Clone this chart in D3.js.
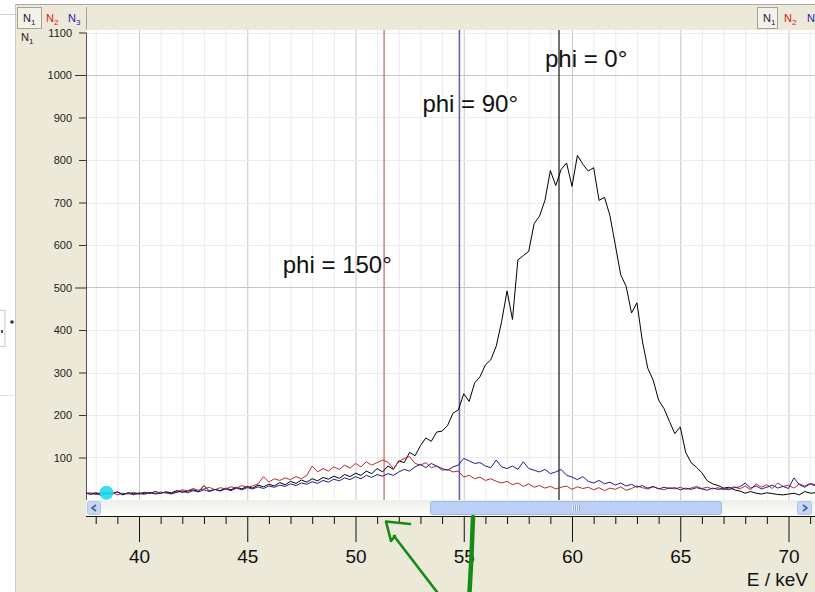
<!DOCTYPE html>
<html>
<head>
<meta charset="utf-8">
<script src="https://cdn.jsdelivr.net/npm/d3@7"></script>
<style>
  html, body { margin: 0; padding: 0; background: #fff; }
  svg { display: block; font-family: "Liberation Sans", Arial, sans-serif; }
</style>
</head>
<body>
<svg id="chart" width="815" height="592"></svg>
<script>
// channel calibration: first channel energy and width (keV)
const E0 = 37.5, dE = 0.25;

// counts per channel
const n1 = [18, 13,
  16, 11, 17, 14,  19, 12, 17, 15,  14, 18, 15, 20,  16, 19, 17, 22,  18, 21, 24, 20,
  34, 21, 25, 22,  28, 24, 30, 26,  32, 28, 35, 31,  37, 33, 41, 36,  44, 39, 47, 42,
  50, 45, 53, 49,  56, 51, 60, 55,  63, 58, 68, 62,  74, 66, 80, 72,  92, 88, 112, 104,
  128, 146, 138, 160,  162, 175, 204, 212,  250, 232, 275, 290,  318, 330, 362, 420,
  492, 425, 565, 575,  585, 650, 668, 705,  775, 740, 778, 793,  738, 811, 790, 774,
  782, 705, 712, 670,  600, 530, 503, 440,  464, 374, 310, 282,  235, 215, 185, 156,
  172, 112, 88, 77,  64, 45, 38, 34,  28, 30, 24, 21,  16, 20, 16, 14,  17, 15, 13, 12,
  14, 16, 12, 20,  16, 17];

const n2 = [16, 14,
  18, 13, 15, 17,  12, 16, 14, 18,  15, 13, 17, 15,  19, 16, 14, 20,  24, 22, 27, 23,
  26, 30, 24, 29,  26, 31, 28, 34,  30, 33, 38, 55,  42, 50, 46, 52,  48, 55, 50, 58,
  80, 66, 74, 68,  78, 72, 82, 75,  86, 78, 90, 82,  88, 94, 89, 74,  90, 98, 102, 86,
  82, 88, 76, 80,  70, 72, 66, 68,  54, 58, 50, 54,  46, 50, 44, 40,  44, 36, 40, 32,
  38, 30, 34, 28,  32, 26, 30, 33,  25, 31, 27, 30,  24, 29, 22, 28,  25, 31, 23, 27,
  33, 29, 26, 31,  27, 24, 29, 26,  30, 25, 28, 32,  27, 30, 26, 29,  24, 28, 31, 26,
  33, 24, 38, 30,  36, 27, 40, 32,  35, 28, 38, 33,  39, 36];

const n3 = [15, 17,
  13, 18, 14, 16,  19, 14, 16, 12,  17, 15, 18, 14,  16, 19, 15, 18,  21, 17, 22, 19,
  24, 20, 25, 21,  26, 22, 28, 24,  29, 26, 31, 27,  33, 30, 35, 32,  38, 34, 40, 37,
  43, 39, 46, 42,  49, 45, 52, 48,  55, 50, 58, 53,  60, 56, 62, 58,  66, 72, 68, 78,
  84, 76, 86, 80,  74, 70, 78, 82,  98, 92, 86, 88,  80, 76, 94, 78,  74, 80, 72, 90,
  74, 70, 66, 72,  62, 66, 72, 58,  54, 48, 55, 44,  40, 46, 38, 42,  35, 40, 33, 37,
  30, 34, 28, 32,  26, 30, 27, 29,  24, 28, 25, 29,  26, 23, 28, 25,  27, 24, 29, 31,
  40, 28, 33, 26,  30, 35, 28, 32,  27, 52, 36, 30,  38, 33];

const seriesNames = ["N1", "N2", "N3"];
const seriesData = [n1, n2, n3];
// marker energy (keV) and annotation for each series
const markerE = [59.4, 51.32, 54.8];
const markerText = ["phi = 0\u00B0", "phi = 150\u00B0", "phi = 90\u00B0"];
const markerTextAt = [[58.75, 1018], [46.64, 535], [53.09, 912]];

const xMajor = [40, 45, 50, 55, 60, 65, 70];
const xMinor = d3.range(38, 72);
const yTicks = [100, 200, 300, 400, 500, 600, 700, 800, 900, 1000, 1100];
const cursorChannel = 4;

const colors = ["#000000", "#b32c2c", "#1e1e8a"];
const markerColors = ["#000000", "#c85050", "#6464aa"];
const tabColors = ["#222222", "#d42020", "#2323b0"];

const W = 815, H = 592;
const plot = { left: 86, right: 815, top: 30, bottom: 500 };
const beige = "#ECE9D8";

const x = d3.scaleLinear().domain([40, 70]).range([139, 788.5]);
const y = d3.scaleLinear().domain([0, 1100]).range([500, 32.5]);

const svg = d3.select("#chart");

// window chrome
svg.append("rect").attr("width", W).attr("height", H).attr("fill", "#fff");
svg.append("rect").attr("x", 15).attr("y", 5).attr("width", W - 15).attr("height", H - 5).attr("fill", beige);
svg.append("line").attr("x1", 15).attr("x2", W).attr("y1", 4.5).attr("y2", 4.5).attr("stroke", "#a8a8a8");
svg.append("line").attr("x1", 15.5).attr("x2", 15.5).attr("y1", 5).attr("y2", H).attr("stroke", "#cfcbbb");
svg.append("line").attr("x1", 0).attr("x2", 15).attr("y1", 14.5).attr("y2", 14.5).attr("stroke", "#cfcfcf");
svg.append("line").attr("x1", 0).attr("x2", 14).attr("y1", 395.5).attr("y2", 395.5).attr("stroke", "#e2e2e2");
svg.append("rect").attr("x", -2).attr("y", 310.5).attr("width", 7).attr("height", 36).attr("fill", "none").attr("stroke", "#c9c9c9");
svg.append("circle").attr("cx", 12).attr("cy", 322).attr("r", 1.8).attr("fill", "#333");
svg.append("rect").attr("x", 1).attr("y", 330).attr("width", 2).attr("height", 3).attr("fill", "#555");

// tab buttons
function tab(g, x0, name, color, boxed, w) {
  if (boxed) {
    g.append("rect").attr("x", x0 - 5.5).attr("y", 7.5).attr("width", w).attr("height", 21)
      .attr("fill", "#f2f1ea").attr("stroke", "#a4a294");
  }
  const t = g.append("text").attr("x", x0).attr("y", 22).attr("font-size", 11).attr("fill", color);
  t.append("tspan").text(name[0]);
  t.append("tspan").attr("font-size", 8).attr("dy", 3).text(name[1]);
}
const tabs = svg.append("g");
seriesNames.forEach((n, i) => tab(tabs, [23, 46, 68][i], n, tabColors[i], i === 0, 24));
tabs.append("line").attr("x1", 86.5).attr("x2", 86.5).attr("y1", 7).attr("y2", 30).attr("stroke", "#a4a294");
// right-hand tab group runs off the window edge, as in the original screenshot
seriesNames.forEach((n, i) => tab(tabs, [763, 784, 807][i], n, tabColors[i], i === 0, 20));

// plot area + grid
svg.append("rect").attr("x", plot.left).attr("y", plot.top)
  .attr("width", plot.right - plot.left).attr("height", plot.bottom - plot.top).attr("fill", "#fff");

svg.append("clipPath").attr("id", "clip").append("rect")
  .attr("x", plot.left).attr("y", plot.top).attr("width", plot.right - plot.left).attr("height", plot.bottom - plot.top);

const grid = svg.append("g").attr("clip-path", "url(#clip)");
grid.selectAll(".vminor").data(xMinor).join("line")
  .attr("x1", d => x(d) + 0.5).attr("x2", d => x(d) + 0.5)
  .attr("y1", plot.top).attr("y2", plot.bottom)
  .attr("stroke", d => d % 5 === 0 ? "#c6c6c6" : "#ececec");
grid.selectAll(".hgrid").data(yTicks).join("line")
  .attr("x1", plot.left).attr("x2", plot.right)
  .attr("y1", d => Math.round(y(d)) + 0.5).attr("y2", d => Math.round(y(d)) + 0.5)
  .attr("stroke", d => d % 500 === 0 ? "#c6c6c6" : "#ececec");

// y axis
const yAxis = svg.append("g").attr("transform", `translate(${plot.left},0)`)
  .call(d3.axisLeft(y).tickValues(yTicks).tickFormat(d3.format("d")).tickSize(7).tickPadding(7).tickSizeOuter(0));
yAxis.select(".domain").remove();
yAxis.selectAll(".tick line").attr("stroke", "#333")
  .filter(d => d % 500 === 0).attr("x2", -11);
yAxis.selectAll(".tick text").attr("font-size", 11).attr("fill", "#222")
  .attr("font-family", "'Liberation Sans', Arial, sans-serif");
svg.append("line").attr("x1", plot.left + 0.5).attr("x2", plot.left + 0.5)
  .attr("y1", y(1100)).attr("y2", plot.bottom).attr("stroke", "#555");
const yl = svg.append("text").attr("x", 21).attr("y", 41).attr("font-size", 11).attr("fill", "#222");
yl.append("tspan").text("N");
yl.append("tspan").attr("font-size", 8).attr("dy", 3).text("1");

// marker lines
const marks = svg.append("g").attr("clip-path", "url(#clip)");
markerE.forEach((e, i) => {
  marks.append("line").attr("x1", x(e)).attr("x2", x(e))
    .attr("y1", plot.top).attr("y2", plot.bottom)
    .attr("stroke", markerColors[i]).attr("stroke-width", i === 2 ? 1.6 : 1.1);
});

// spectra
const line = d3.line().x((d, i) => x(E0 + i * dE)).y(d => y(d));
const curves = svg.append("g").attr("clip-path", "url(#clip)");
seriesData.forEach((s, i) => {
  curves.append("path").datum(s).attr("d", line)
    .attr("fill", "none").attr("stroke", colors[i]).attr("stroke-width", 1)
    .attr("stroke-linejoin", "round");
});

// cursor dot
curves.append("circle").attr("cx", x(E0 + cursorChannel * dE)).attr("cy", y(n1[cursorChannel]))
  .attr("r", 7).attr("fill", "#1fdcea").attr("opacity", 0.9);

// annotations
markerText.forEach((t, i) => {
  svg.append("text").attr("x", x(markerTextAt[i][0])).attr("y", y(markerTextAt[i][1]))
    .attr("font-size", 24).attr("fill", "#111").text(t);
});

// scrollbar
const sb = svg.append("g");
const grad = svg.append("defs").append("linearGradient").attr("id", "track")
  .attr("x1", 0).attr("x2", 0).attr("y1", 0).attr("y2", 1);
grad.append("stop").attr("offset", 0).attr("stop-color", "#efefe9");
grad.append("stop").attr("offset", 1).attr("stop-color", "#fdfdfc");
sb.append("rect").attr("x", plot.left).attr("y", 500).attr("width", plot.right - plot.left).attr("height", 16).attr("fill", "url(#track)");
sb.append("rect").attr("x", 87.5).attr("y", 501.5).attr("width", 13).attr("height", 13).attr("rx", 2)
  .attr("fill", "#c6d6f6").attr("stroke", "#b0c4ec");
sb.append("path").attr("d", "M96,505 L92,508 L96,511").attr("fill", "none").attr("stroke", "#4d6185").attr("stroke-width", 1.6);
sb.append("rect").attr("x", 797.5).attr("y", 501.5).attr("width", 14).attr("height", 13).attr("rx", 2)
  .attr("fill", "#c6d6f6").attr("stroke", "#b0c4ec");
sb.append("path").attr("d", "M803,505 L807,508 L803,511").attr("fill", "none").attr("stroke", "#4d6185").attr("stroke-width", 1.6);
sb.append("rect").attr("x", 430.5).attr("y", 501.5).attr("width", 291).attr("height", 13).attr("rx", 2)
  .attr("fill", "#bcd0f5").attr("stroke", "#a3b9e6");
[572, 574, 576, 578].forEach(gx => {
  sb.append("line").attr("x1", gx + 0.5).attr("x2", gx + 0.5).attr("y1", 505).attr("y2", 511).attr("stroke", "#eef3fd");
  sb.append("line").attr("x1", gx + 1.5).attr("x2", gx + 1.5).attr("y1", 505).attr("y2", 511).attr("stroke", "#8fa7d6");
});

// x axis
const xAxisMinor = svg.append("g").attr("transform", "translate(0,516)")
  .call(d3.axisBottom(x).tickValues(xMinor.filter(d => d % 5 !== 0)).tickSize(8).tickFormat("").tickSizeOuter(0));
xAxisMinor.select(".domain").remove();
xAxisMinor.selectAll(".tick line").attr("stroke", "#111");
const xAxis = svg.append("g").attr("transform", "translate(0,516)")
  .call(d3.axisBottom(x).tickValues(xMajor).tickSize(26).tickPadding(8).tickSizeOuter(0));
xAxis.select(".domain").remove();
xAxis.selectAll(".tick line").attr("stroke", "#111");
xAxis.selectAll(".tick text").attr("font-size", 19).attr("fill", "#111")
  .attr("font-family", "'Liberation Sans', Arial, sans-serif");
svg.append("line").attr("x1", plot.left).attr("x2", plot.right).attr("y1", 516.5).attr("y2", 516.5).attr("stroke", "#111");
svg.append("text").attr("x", 808).attr("y", 586).attr("text-anchor", "end")
  .attr("font-size", 19).attr("fill", "#111").text("E / keV");

// hand-drawn green arrows
const green = "#168a16";
svg.append("path").attr("d", "M410,524 L386,521.5 L391,541 L395,536 M394,536 L437,592")
  .attr("fill", "none").attr("stroke", green).attr("stroke-width", 2.6)
  .attr("stroke-linejoin", "round").attr("stroke-linecap", "round");
svg.append("path").attr("d", "M473,517 L471.5,556 L469.5,592")
  .attr("fill", "none").attr("stroke", green).attr("stroke-width", 4.5).attr("stroke-linecap", "round");
</script>
</body>
</html>
